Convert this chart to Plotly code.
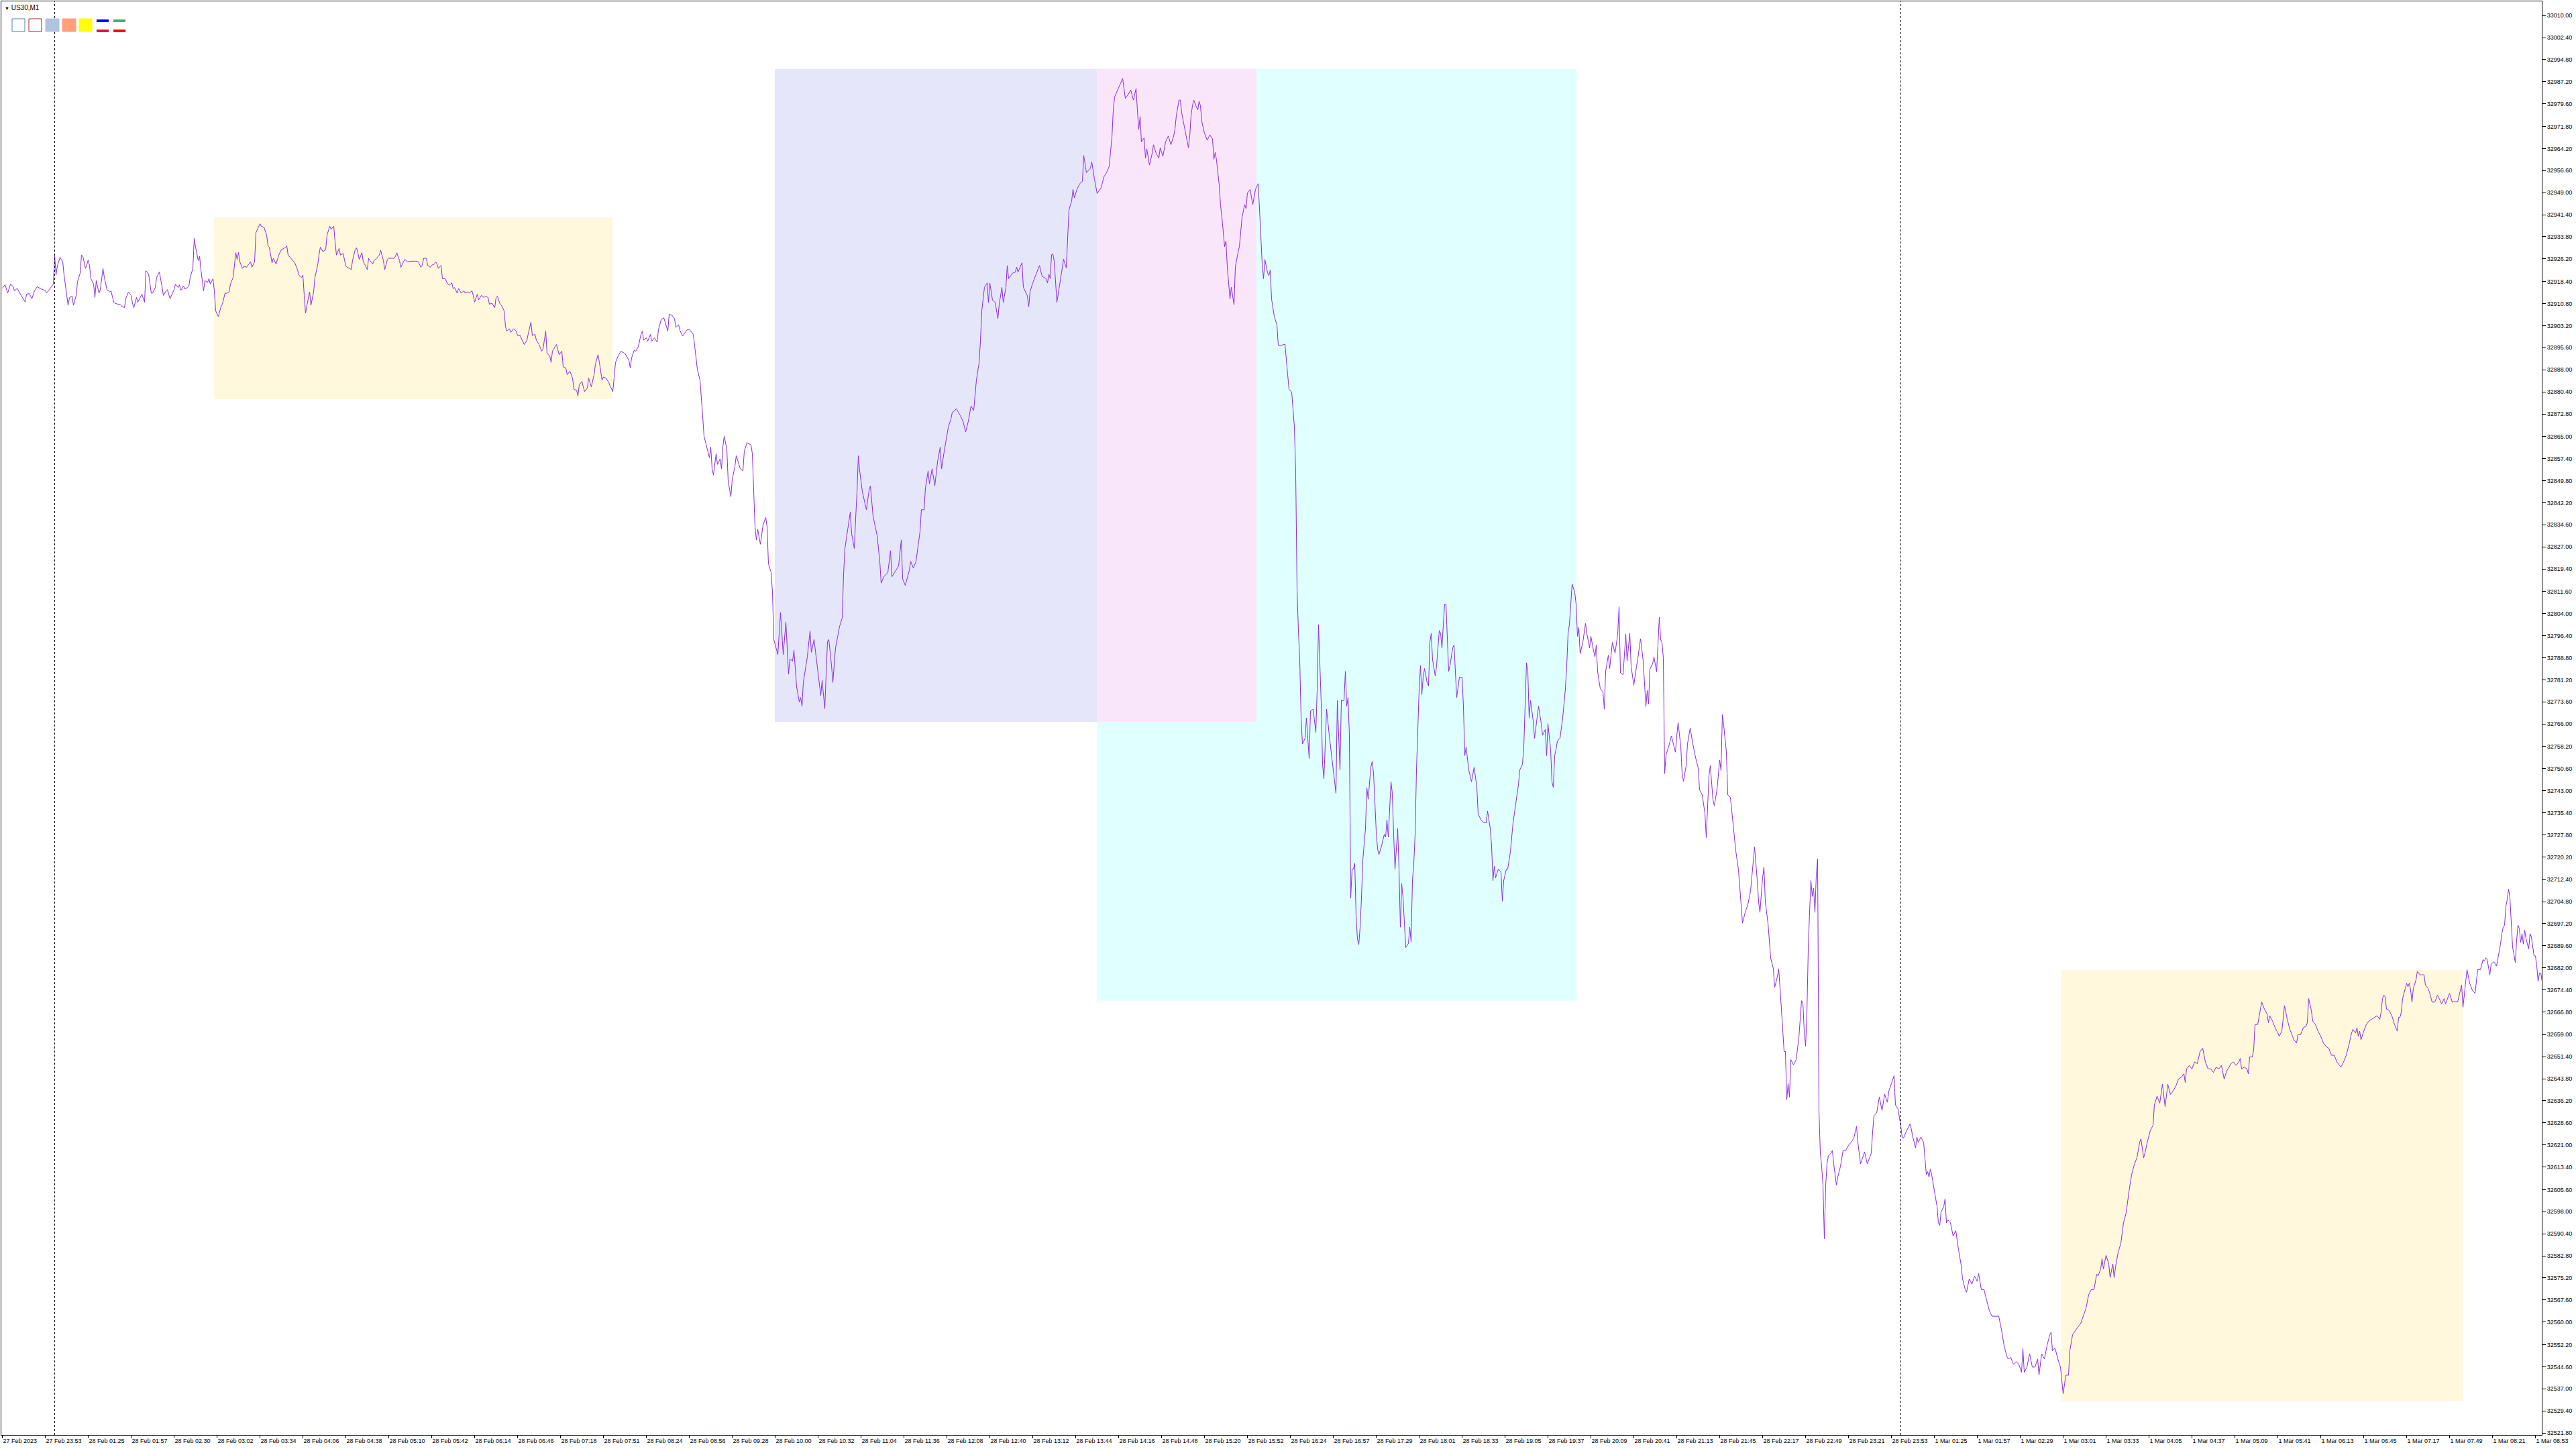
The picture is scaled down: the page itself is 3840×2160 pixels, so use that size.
import plotly.graph_objects as go

# US30 M1 line chart, 27 Feb 23:21 -> 1 Mar ~08:58
# (bar number counted from the first visible bar, close price)
seg_27feb_night = [
    (0, 32916.1), (2, 32917.3), (4, 32914.4), (6, 32917.5), (8, 32916.7), (9, 32915.2), (11, 32916.0), (13, 32914.4),
    (16, 32912.1), (17, 32911.3), (18, 32914.0), (20, 32914.3), (22, 32912.5), (24, 32915.2), (26, 32916.6), (29, 32915.8),
    (32, 32915.3), (33, 32914.4), (35, 32915.6), (37, 32916.9), (38, 32917.5), (39, 32927.5), (40, 32920.6), (41, 32923.7),
    (43, 32926.7), (45, 32925.2), (46, 32920.6), (48, 32913.6), (49, 32910.2), (50, 32912.9), (52, 32913.3), (53, 32910.2),
    (55, 32913.6), (56, 32918.3), (58, 32921.3), (59, 32927.5), (60, 32927.1), (62, 32922.9), (64, 32925.8), (65, 32923.7),
    (66, 32919.4), (68, 32917.5), (69, 32912.9), (70, 32918.7), (72, 32914.4), (73, 32915.6), (75, 32922.9), (76, 32919.8),
    (78, 32915.6), (80, 32914.8), (81, 32915.2), (83, 32911.3), (84, 32910.9), (86, 32910.6), (88, 32910.4), (89, 32909.9),
    (91, 32909.4), (92, 32912.5), (94, 32914.8), (96, 32913.6), (97, 32910.9), (98, 32909.4), (100, 32912.9), (101, 32911.3),
    (103, 32913.3), (104, 32914.0), (106, 32911.3), (107, 32922.1), (109, 32921.0), (111, 32914.4), (112, 32914.4), (114, 32916.3),
    (115, 32919.8), (117, 32921.7), (119, 32916.7), (120, 32913.6), (122, 32915.2), (123, 32915.6), (125, 32912.5), (126, 32913.6),
    (128, 32915.6), (129, 32917.5), (131, 32916.3), (132, 32917.3), (133, 32915.3), (135, 32916.9), (136, 32915.8), (138, 32916.3),
    (139, 32916.7), (140, 32919.8), (142, 32922.9), (143, 32933.3), (144, 32930.2), (146, 32925.6), (147, 32927.1), (148, 32922.5),
    (149, 32918.3), (150, 32915.2), (151, 32918.7), (153, 32918.1), (154, 32919.4), (155, 32917.5), (157, 32919.4), (158, 32915.2),
    (159, 32908.3), (161, 32906.3), (163, 32909.8), (164, 32910.6), (166, 32914.4), (167, 32914.3), (169, 32914.8), (170, 32917.5),
    (172, 32919.8), (173, 32924.4), (174, 32928.3), (175, 32926.0), (176, 32928.4), (177, 32925.2), (179, 32922.9), (180, 32923.7),
    (182, 32923.3), (183, 32924.0), (185, 32925.2), (186, 32923.3), (188, 32925.2), (189, 32935.2), (191, 32937.5), (192, 32938.3),
    (193, 32937.4), (195, 32937.1), (197, 32934.4), (198, 32930.6), (199, 32930.2), (201, 32924.8), (202, 32926.4), (204, 32924.4),
    (206, 32927.5), (207, 32928.3), (208, 32929.4), (210, 32929.8), (212, 32930.6), (213, 32927.5), (215, 32926.4), (217, 32925.2),
    (218, 32924.8), (220, 32922.5), (221, 32920.6), (223, 32919.8), (224, 32920.6), (225, 32913.6), (226, 32907.5), (227, 32910.2),
    (229, 32914.8), (230, 32910.2), (232, 32914.8), (233, 32919.8), (235, 32924.0), (236, 32927.5), (237, 32930.2), (239, 32928.7),
    (241, 32929.4), (242, 32934.4), (244, 32937.4), (245, 32936.4), (247, 32937.4), (248, 32932.1), (249, 32927.5), (251, 32929.8),
    (252, 32927.5), (254, 32928.1), (256, 32923.7), (257, 32923.3), (259, 32922.9), (260, 32922.5), (261, 32925.6), (263, 32929.4),
    (264, 32930.0), (265, 32928.3), (266, 32926.0), (268, 32928.3), (269, 32925.2), (270, 32924.4), (272, 32922.5), (273, 32926.4),
    (274, 32925.6), (276, 32924.4), (277, 32925.6), (279, 32926.4), (281, 32927.5), (282, 32929.2), (283, 32927.5), (284, 32925.6),
    (285, 32922.5), (287, 32926.0), (288, 32926.4), (292, 32926.4), (293, 32927.1), (294, 32928.3), (296, 32925.6), (297, 32923.3),
    (299, 32925.2), (300, 32926.0), (302, 32925.2), (305, 32925.4), (308, 32925.4), (310, 32925.2), (312, 32923.3), (313, 32924.0),
    (314, 32926.4), (316, 32926.4), (317, 32924.0), (319, 32923.3), (320, 32924.0), (322, 32924.4), (323, 32925.2), (324, 32924.4),
    (325, 32922.9), (327, 32924.0), (328, 32919.4), (330, 32919.4), (332, 32917.5), (333, 32917.1), (335, 32917.9), (336, 32916.0),
    (337, 32916.3), (339, 32914.4), (340, 32916.0), (342, 32914.4), (344, 32915.2), (345, 32914.4), (347, 32914.8), (348, 32914.4),
    (350, 32915.2), (351, 32913.6), (352, 32911.3), (354, 32914.0), (355, 32912.1), (357, 32913.6), (359, 32912.9), (360, 32913.3),
    (362, 32912.9), (363, 32910.6), (365, 32910.9), (367, 32909.4), (368, 32912.9), (369, 32913.3), (371, 32910.6), (372, 32910.2),
    (374, 32908.3), (375, 32902.9), (376, 32901.3), (378, 32902.1), (379, 32900.9), (381, 32902.1), (383, 32901.3), (384, 32899.8),
    (386, 32899.8), (387, 32898.6), (389, 32896.7), (391, 32898.2), (392, 32900.5), (394, 32904.4), (395, 32899.8), (397, 32900.2),
    (398, 32898.2), (400, 32896.7), (402, 32894.4), (403, 32895.2), (405, 32901.3), (406, 32893.6), (408, 32892.8), (409, 32890.5),
    (410, 32894.4), (412, 32895.9), (413, 32896.7), (415, 32893.2), (417, 32894.4), (418, 32889.0), (420, 32888.6), (421, 32886.3),
    (423, 32887.5), (425, 32885.1), (426, 32881.3), (428, 32880.9), (429, 32879.0), (430, 32882.8), (432, 32884.0), (433, 32882.1),
    (434, 32880.5), (436, 32881.7), (437, 32885.1), (439, 32882.1), (441, 32886.3), (442, 32889.8), (444, 32893.2), (445, 32890.5),
    (447, 32884.4), (448, 32885.5), (450, 32885.1), (452, 32883.6), (453, 32882.4), (455, 32880.5), (456, 32885.1), (457, 32890.5),
    (459, 32892.8), (461, 32894.4), (464, 32893.6), (465, 32892.8), (467, 32891.3), (468, 32888.6), (469, 32892.1), (471, 32894.8),
    (472, 32894.4), (474, 32895.9), (476, 32900.2), (477, 32901.3), (478, 32898.2), (480, 32899.0), (481, 32897.8), (483, 32900.2),
    (484, 32897.8), (486, 32899.0), (488, 32897.5), (489, 32901.7), (491, 32905.2), (493, 32905.9), (494, 32904.4), (496, 32901.3),
    (497, 32907.1),
]

seg_28feb_midday = [
    (499, 32906.8), (501, 32905.6), (502, 32902.6), (504, 32903.5), (505, 32901.6), (507, 32899.6), (510, 32901.6), (512, 32902.0),
    (515, 32900.1), (516, 32896.3), (518, 32888.2), (520, 32884.4), (521, 32877.0), (522, 32871.8), (523, 32865.1), (525, 32861.4),
    (527, 32857.7), (528, 32861.4), (529, 32853.9), (530, 32851.7), (532, 32859.1), (533, 32855.4), (535, 32857.3), (536, 32853.9),
    (537, 32861.4), (538, 32865.1), (540, 32860.6), (541, 32849.5), (543, 32844.3), (544, 32850.2), (546, 32854.7), (547, 32858.4),
    (550, 32853.9), (552, 32853.2), (553, 32859.9), (555, 32862.9), (558, 32862.1), (559, 32859.1), (560, 32847.2), (561, 32833.8),
    (562, 32829.4), (563, 32833.1), (565, 32827.9), (567, 32834.6), (569, 32837.1), (570, 32833.8), (571, 32821.2), (573, 32818.2),
    (574, 32811.5), (575, 32795.1), (578, 32789.9), (580, 32804.4), (582, 32789.9), (584, 32801.1), (586, 32783.2), (587, 32788.4),
    (589, 32787.7), (590, 32791.4), (592, 32778.8), (594, 32773.6), (595, 32775.1), (596, 32772.1), (597, 32780.3), (600, 32789.2),
    (602, 32798.1), (603, 32790.7), (605, 32795.1), (608, 32783.2), (610, 32775.8), (611, 32781.0), (613, 32771.3), (615, 32794.4),
    (616, 32795.1), (618, 32786.2), (619, 32780.3), (621, 32792.2), (624, 32799.6), (626, 32802.6), (627, 32817.5), (628, 32826.4),
    (631, 32836.8), (632, 32839.0), (633, 32831.6), (635, 32826.4), (636, 32836.8), (637, 32845.8), (638, 32858.4), (639, 32853.2),
    (641, 32846.0), (644, 32839.8), (646, 32846.5), (647, 32848.0), (649, 32837.5), (652, 32830.9), (654, 32822.0), (655, 32814.5),
    (657, 32816.7), (660, 32818.2), (662, 32825.7), (663, 32816.7), (665, 32818.2), (668, 32820.4), (670, 32829.4), (671, 32816.0),
    (673, 32813.7), (676, 32818.9), (677, 32822.0), (679, 32819.7), (681, 32822.0), (684, 32832.4), (685, 32839.8), (687, 32839.8),
    (688, 32847.2), (690, 32853.2), (691, 32848.7), (693, 32853.9), (695, 32848.0), (697, 32856.2), (699, 32861.4), (700, 32853.9),
    (702, 32859.9), (705, 32868.1), (707, 32871.0), (708, 32873.3), (710, 32874.0), (711, 32874.6), (714, 32872.2), (716, 32870.3),
    (718, 32866.6), (720, 32870.3), (722, 32875.5), (724, 32874.0), (726, 32884.4), (728, 32890.4), (729, 32897.8), (730, 32908.2),
    (732, 32916.4), (734, 32917.9), (735, 32911.2), (736, 32917.9), (738, 32912.0), (740, 32911.2), (742, 32905.6), (743, 32910.5),
    (745, 32916.4), (746, 32911.2), (748, 32916.4), (749, 32923.9), (750, 32919.4), (753, 32921.3), (755, 32921.6), (756, 32923.4),
    (757, 32921.6), (760, 32924.9), (761, 32916.4), (764, 32913.5), (765, 32909.7), (766, 32914.9), (768, 32917.9), (771, 32921.6),
    (773, 32923.9), (775, 32920.2), (778, 32919.4), (779, 32917.9), (780, 32920.9), (781, 32919.4), (782, 32927.6), (783, 32927.9),
    (784, 32925.4), (786, 32911.2), (789, 32920.2), (791, 32926.1), (793, 32923.1), (795, 32943.0), (797, 32946.2), (798, 32950.2),
    (799, 32947.2), (801, 32950.2), (803, 32952.1), (805, 32952.9), (806, 32961.8), (808, 32955.9), (811, 32957.4), (812, 32959.6),
    (814, 32953.6), (816, 32948.7), (819, 32950.7), (821, 32954.4), (823, 32955.9), (825, 32958.1), (826, 32963.3), (827, 32967.8),
    (828, 32977.4), (829, 32981.9), (831, 32984.1), (834, 32987.1), (835, 32988.3), (836, 32984.9), (837, 32981.5), (839, 32982.7),
    (841, 32984.4), (843, 32980.9), (845, 32984.9), (846, 32977.4), (847, 32970.8), (848, 32975.2),
]

seg_28feb_afternoon = [
    (849, 32966.5), (851, 32967.9), (852, 32960.9), (853, 32964.1), (855, 32958.5), (857, 32962.5), (858, 32965.5), (860, 32962.5),
    (862, 32960.9), (863, 32964.5), (865, 32961.5), (867, 32966.5), (869, 32968.5), (871, 32965.5), (873, 32968.5), (874, 32970.9),
    (875, 32975.5), (877, 32980.9), (878, 32980.9), (879, 32976.5), (881, 32971.5), (883, 32966.5), (884, 32964.5), (885, 32968.5),
    (886, 32975.5), (887, 32978.9), (888, 32980.9), (890, 32978.5), (891, 32977.5), (892, 32980.5), (893, 32978.9), (894, 32973.5),
    (896, 32969.5), (898, 32967.1), (900, 32968.9), (902, 32967.5), (903, 32960.5), (904, 32962.9), (905, 32960.1), (907, 32951.5),
    (908, 32944.5), (909, 32940.5), (911, 32930.4), (912, 32932.4), (913, 32923.4), (915, 32912.4), (916, 32916.4), (918, 32910.4),
    (919, 32923.4), (921, 32928.4), (922, 32930.4), (924, 32940.5), (926, 32944.9), (927, 32943.5), (928, 32948.9), (930, 32950.1),
    (932, 32944.9), (934, 32950.1), (936, 32952.1), (937, 32943.5), (938, 32934.4), (939, 32924.4), (940, 32919.4), (941, 32926.0),
    (943, 32921.4), (944, 32920.4), (945, 32922.4), (946, 32912.4), (948, 32906.4), (950, 32903.4), (951, 32896.4), (953, 32896.4),
    (956, 32896.8), (957, 32890.4), (958, 32886.3), (959, 32881.3), (961, 32880.3), (962, 32874.3), (963, 32868.3), (964, 32852.3),
    (965, 32812.2), (966, 32798.2), (967, 32788.1), (968, 32768.1), (969, 32759.1), (971, 32761.1), (972, 32768.1), (974, 32754.1),
    (975, 32770.5), (977, 32771.1), (979, 32763.1), (980, 32778.1), (981, 32800.2), (983, 32773.1), (984, 32752.1), (985, 32747.1),
    (986, 32758.1), (987, 32771.1), (989, 32762.1), (990, 32758.1), (992, 32749.1), (994, 32742.1), (995, 32774.1), (997, 32750.1),
    (998, 32774.1), (1000, 32774.1), (1001, 32784.1), (1002, 32772.1), (1003, 32775.1), (1004, 32762.1), (1005, 32706.0), (1006, 32716.0),
    (1007, 32716.0), (1008, 32718.0), (1009, 32700.0), (1010, 32692.0), (1011, 32690.0), (1012, 32696.0), (1013, 32706.0), (1014, 32719.0),
    (1016, 32730.0), (1017, 32744.1), (1018, 32740.1), (1020, 32751.1), (1021, 32753.1), (1022, 32749.1), (1024, 32729.0), (1025, 32723.0),
    (1026, 32721.0), (1028, 32724.0), (1030, 32728.0), (1031, 32727.0), (1032, 32733.0), (1033, 32727.0), (1035, 32746.1), (1036, 32742.1),
    (1037, 32728.0), (1038, 32716.0), (1040, 32730.0), (1041, 32716.0), (1042, 32696.0), (1043, 32711.0), (1044, 32706.0), (1045, 32698.0),
    (1046, 32689.0), (1048, 32690.4), (1049, 32696.0), (1050, 32691.0), (1051, 32712.0), (1052, 32718.0), (1053, 32728.0), (1054, 32750.1),
    (1055, 32766.1), (1056, 32778.1), (1057, 32786.1), (1058, 32776.1), (1059, 32782.1), (1060, 32785.1), (1062, 32780.1), (1063, 32779.1),
    (1064, 32794.2), (1065, 32797.2), (1066, 32788.1), (1068, 32782.5), (1069, 32786.1), (1071, 32798.2), (1072, 32797.2), (1073, 32792.2),
    (1074, 32800.2), (1075, 32807.2), (1076, 32807.2), (1077, 32796.2), (1078, 32784.1), (1079, 32786.1), (1081, 32792.2), (1082, 32793.2),
    (1083, 32784.1), (1084, 32775.1), (1086, 32782.1), (1088, 32782.1), (1089, 32772.1), (1090, 32755.1), (1091, 32758.1), (1093, 32750.1),
    (1095, 32746.1), (1097, 32751.1), (1099, 32744.1), (1100, 32735.0), (1102, 32733.0), (1104, 32732.0), (1106, 32732.0), (1107, 32736.0),
    (1109, 32730.0), (1110, 32724.0), (1111, 32712.0), (1112, 32717.0), (1113, 32713.0), (1115, 32716.0), (1117, 32715.0), (1118, 32705.0),
    (1119, 32712.0), (1121, 32716.0), (1122, 32716.0), (1124, 32722.0), (1126, 32732.0), (1128, 32739.1), (1130, 32745.1), (1131, 32750.1),
    (1133, 32752.1), (1134, 32758.1), (1135, 32774.1), (1136, 32787.1), (1137, 32784.1), (1138, 32768.1), (1139, 32774.1), (1141, 32767.1),
    (1142, 32761.1), (1144, 32769.1), (1145, 32772.1), (1147, 32766.1), (1148, 32762.1), (1150, 32764.1), (1151, 32755.1), (1152, 32766.1),
    (1154, 32757.1), (1155, 32746.1), (1156, 32744.1), (1157, 32755.1), (1158, 32757.1), (1159, 32760.1), (1161, 32761.1), (1163, 32768.1),
    (1164, 32773.1), (1165, 32778.1), (1166, 32786.1), (1167, 32797.2), (1168, 32800.2), (1169, 32808.2), (1170, 32814.2), (1172, 32811.2),
    (1173, 32807.2), (1174, 32796.2), (1175, 32799.2), (1176, 32790.2), (1178, 32794.2), (1180, 32800.6), (1181, 32797.2), (1183, 32792.2),
    (1184, 32796.2), (1186, 32791.2), (1187, 32789.1), (1188, 32793.2), (1189, 32784.1), (1190, 32781.1), (1191, 32778.1), (1193, 32777.1),
    (1194, 32771.1), (1195, 32784.1), (1197, 32789.7), (1198, 32785.1),
]

seg_28feb_evening = [
    (1199, 32790.4), (1200, 32794.1), (1202, 32790.4), (1204, 32796.9), (1205, 32806.4), (1206, 32783.6), (1208, 32783.0), (1209, 32791.3),
    (1210, 32796.9), (1211, 32787.7), (1213, 32797.2), (1214, 32785.8), (1216, 32779.4), (1218, 32785.8), (1219, 32788.6), (1221, 32795.4),
    (1223, 32787.7), (1225, 32772.0), (1226, 32777.5), (1227, 32772.9), (1228, 32784.9), (1230, 32786.7), (1231, 32789.1), (1233, 32784.0),
    (1234, 32794.1), (1235, 32802.8), (1236, 32795.0), (1237, 32794.1), (1238, 32788.6), (1239, 32748.9), (1240, 32755.4), (1242, 32758.2),
    (1244, 32761.9), (1246, 32758.2), (1247, 32756.3), (1248, 32761.9), (1249, 32766.5), (1251, 32758.2), (1252, 32749.0), (1253, 32746.2),
    (1255, 32751.7), (1256, 32759.1), (1258, 32764.6), (1260, 32759.1), (1262, 32754.5), (1264, 32750.8), (1265, 32743.4), (1267, 32741.6),
    (1269, 32735.2), (1270, 32726.9), (1271, 32737.9), (1272, 32748.1), (1273, 32751.7), (1275, 32739.8), (1276, 32737.9), (1278, 32743.4),
    (1280, 32753.6), (1281, 32749.9), (1282, 32769.2), (1283, 32765.5), (1285, 32756.3), (1286, 32741.6), (1288, 32740.7), (1290, 32730.6),
    (1292, 32722.3), (1294, 32715.8), (1296, 32704.8), (1297, 32697.4), (1299, 32701.1), (1301, 32703.8), (1303, 32708.4), (1305, 32717.7),
    (1306, 32723.6), (1308, 32712.1), (1309, 32704.8), (1310, 32701.1), (1312, 32713.1), (1313, 32716.7), (1314, 32704.8), (1316, 32697.4),
    (1318, 32685.4), (1320, 32681.7), (1321, 32675.3), (1323, 32679.0), (1324, 32681.7), (1326, 32667.9), (1328, 32653.2), (1329, 32653.2),
    (1330, 32636.6), (1331, 32642.1), (1332, 32637.5), (1333, 32650.4), (1335, 32648.6), (1337, 32650.4), (1339, 32657.8), (1341, 32670.7),
    (1342, 32669.8), (1343, 32660.6), (1344, 32655.0), (1345, 32666.1), (1346, 32688.2), (1347, 32701.1), (1348, 32712.1), (1349, 32706.6),
    (1350, 32709.4), (1351, 32701.1), (1352, 32714.0), (1353, 32719.5), (1354, 32632.9), (1355, 32618.2), (1356, 32613.6), (1357, 32607.1),
    (1358, 32588.7), (1359, 32607.1), (1360, 32614.5), (1361, 32617.3), (1363, 32618.2), (1364, 32619.1), (1365, 32614.5), (1367, 32607.1),
    (1368, 32609.9), (1370, 32613.6), (1371, 32616.4), (1372, 32619.1), (1374, 32619.1), (1376, 32620.9), (1378, 32621.9), (1380, 32623.4),
    (1382, 32627.4), (1383, 32621.9), (1385, 32614.5), (1387, 32617.3), (1388, 32618.6), (1390, 32614.5), (1392, 32617.3), (1393, 32618.2),
    (1394, 32625.6), (1395, 32631.1), (1397, 32632.0), (1399, 32637.5), (1401, 32632.9), (1403, 32638.5), (1405, 32635.7), (1406, 32639.4),
    (1408, 32642.1), (1410, 32644.9), (1411, 32634.8), (1413, 32633.3), (1415, 32627.4), (1416, 32623.7), (1417, 32623.4), (1419, 32625.6),
    (1422, 32628.3), (1424, 32623.7), (1426, 32620.0), (1427, 32623.7), (1428, 32621.9), (1430, 32623.7), (1432, 32621.9), (1434, 32610.8),
    (1435, 32611.8), (1436, 32609.9), (1437, 32612.7), (1438, 32610.8), (1440, 32605.3), (1442, 32599.8), (1443, 32594.2), (1444, 32593.3),
    (1445, 32597.9), (1447, 32599.8), (1448, 32602.5), (1449, 32594.2), (1450, 32595.2), (1452, 32594.2), (1454, 32589.6), (1456, 32591.5),
    (1458, 32585.0), (1460, 32579.5), (1461, 32574.9), (1463, 32571.2), (1464, 32570.3), (1466, 32574.9), (1468, 32573.1), (1470, 32575.8),
    (1472, 32574.0), (1473, 32576.7), (1475, 32571.2), (1477, 32571.2), (1479, 32567.5), (1481, 32563.9), (1483, 32562.0), (1484, 32562.0),
    (1486, 32562.0), (1488, 32562.0), (1490, 32557.4), (1492, 32551.9), (1494, 32548.2), (1495, 32547.3), (1497, 32547.8), (1499, 32545.4),
    (1501, 32546.4), (1503, 32545.4), (1505, 32542.7), (1506, 32550.9), (1507, 32542.7), (1509, 32544.5), (1511, 32549.1), (1513, 32544.5),
    (1515, 32544.5), (1517, 32547.3), (1518, 32541.7), (1520, 32549.1), (1522, 32547.3), (1524, 32551.9), (1526, 32555.6), (1527, 32556.5),
    (1528, 32550.1), (1530, 32551.0), (1532, 32547.3), (1534, 32544.5), (1536, 32535.3), (1538, 32541.7), (1540, 32541.7), (1541, 32550.1),
    (1543, 32555.6), (1545, 32557.0), (1547, 32558.3),
]

seg_1mar_morning = [
    (1549, 32559.4), (1551, 32562.3), (1553, 32564.7), (1555, 32569.4), (1557, 32571.2), (1559, 32571.2), (1561, 32576.5), (1562, 32575.9),
    (1564, 32578.3), (1565, 32581.8), (1566, 32578.3), (1568, 32583.0), (1570, 32580.0), (1571, 32575.3), (1573, 32580.0), (1574, 32575.3),
    (1575, 32578.8), (1577, 32584.1), (1579, 32587.1), (1581, 32594.2), (1583, 32597.7), (1585, 32604.8), (1587, 32610.7), (1589, 32614.2),
    (1591, 32616.6), (1593, 32621.9), (1594, 32623.1), (1596, 32616.6), (1597, 32618.3), (1599, 32622.5), (1601, 32626.0), (1603, 32627.8),
    (1604, 32634.8), (1606, 32637.8), (1608, 32635.4), (1610, 32641.9), (1612, 32634.2), (1614, 32641.9), (1616, 32638.4), (1618, 32639.6),
    (1620, 32641.3), (1622, 32643.7), (1624, 32644.3), (1626, 32645.5), (1627, 32642.5), (1628, 32647.2), (1630, 32648.4), (1632, 32647.2),
    (1634, 32649.6), (1636, 32649.0), (1638, 32653.1), (1640, 32654.3), (1642, 32649.6), (1644, 32647.2), (1646, 32647.2), (1648, 32646.0),
    (1650, 32647.8), (1652, 32647.2), (1654, 32648.4), (1656, 32643.7), (1658, 32646.6), (1659, 32647.2), (1661, 32649.0), (1663, 32649.6),
    (1665, 32648.4), (1667, 32649.6), (1668, 32650.8), (1669, 32647.2), (1671, 32647.8), (1673, 32647.2), (1674, 32645.5), (1675, 32651.3),
    (1677, 32651.3), (1678, 32653.7), (1679, 32662.5), (1681, 32662.5), (1682, 32664.9), (1684, 32670.2), (1686, 32667.8), (1688, 32666.1),
    (1689, 32663.1), (1690, 32665.5), (1692, 32663.7), (1694, 32661.4), (1696, 32659.6), (1697, 32658.4), (1699, 32660.2), (1700, 32665.5),
    (1701, 32669.0), (1703, 32664.3), (1705, 32660.8), (1707, 32658.4), (1708, 32657.2), (1710, 32656.1), (1711, 32659.0), (1713, 32659.0),
    (1715, 32661.4), (1717, 32661.9), (1718, 32663.1), (1719, 32671.4), (1721, 32667.3), (1722, 32663.7), (1724, 32662.5), (1726, 32660.2),
    (1728, 32658.4), (1730, 32656.1), (1732, 32654.9), (1734, 32654.3), (1736, 32651.9), (1738, 32651.9), (1740, 32649.6), (1742, 32648.4),
    (1743, 32647.8), (1745, 32649.6), (1747, 32651.9), (1749, 32655.5), (1751, 32659.6), (1752, 32660.8), (1754, 32659.6), (1755, 32661.4),
    (1756, 32658.4), (1757, 32660.2), (1758, 32657.2), (1760, 32660.2), (1762, 32662.5), (1764, 32663.7), (1766, 32664.3), (1768, 32664.9),
    (1770, 32665.5), (1772, 32664.3), (1773, 32666.7), (1774, 32671.4), (1775, 32672.6), (1776, 32672.0), (1777, 32667.8), (1779, 32667.3),
    (1781, 32665.5), (1783, 32662.5), (1785, 32660.2), (1786, 32664.9), (1787, 32664.9), (1788, 32666.7), (1789, 32671.4), (1791, 32674.9),
    (1792, 32676.7), (1793, 32675.5), (1794, 32676.7), (1795, 32674.3), (1796, 32670.2), (1797, 32674.9), (1799, 32677.9), (1800, 32680.8),
    (1802, 32679.6), (1803, 32679.6), (1805, 32679.6), (1806, 32676.1), (1808, 32674.9), (1809, 32673.7), (1811, 32670.2), (1813, 32670.2),
    (1815, 32672.6), (1817, 32670.8), (1818, 32669.6), (1820, 32671.4), (1821, 32669.6), (1823, 32672.0), (1824, 32673.2), (1826, 32670.2),
    (1828, 32670.4), (1830, 32670.2), (1832, 32674.3), (1833, 32676.1), (1834, 32668.4), (1836, 32677.3), (1837, 32681.4), (1839, 32676.7),
    (1841, 32674.3), (1843, 32673.2), (1845, 32681.4), (1847, 32681.4), (1849, 32684.9), (1850, 32684.3), (1851, 32685.5), (1852, 32684.9),
    (1854, 32679.6), (1855, 32683.2), (1857, 32684.1), (1859, 32682.6), (1860, 32684.9), (1861, 32687.3), (1862, 32690.2), (1863, 32693.8),
    (1864, 32696.1), (1865, 32696.7), (1866, 32703.2), (1867, 32705.6), (1868, 32709.1), (1869, 32706.1), (1870, 32696.7), (1871, 32689.1),
    (1872, 32686.7), (1873, 32683.8), (1874, 32691.4), (1875, 32696.7), (1876, 32695.5), (1877, 32690.8), (1878, 32693.8), (1879, 32690.2),
    (1880, 32695.0), (1881, 32692.0), (1883, 32688.5), (1884, 32693.8), (1885, 32692.6), (1886, 32689.1), (1887, 32686.1), (1888, 32686.1),
    (1889, 32682.6), (1890, 32677.3), (1891, 32680.2), (1892, 32680.2), (1893, 32677.3),
]

# time axis: one label every 32 bars
time_labels = [
    "27 Feb 2023", "27 Feb 23:53", "28 Feb 01:25", "28 Feb 01:57", "28 Feb 02:30", "28 Feb 03:02", "28 Feb 03:34",
    "28 Feb 04:06", "28 Feb 04:38", "28 Feb 05:10", "28 Feb 05:42", "28 Feb 06:14", "28 Feb 06:46", "28 Feb 07:18",
    "28 Feb 07:51", "28 Feb 08:24", "28 Feb 08:56", "28 Feb 09:28", "28 Feb 10:00", "28 Feb 10:32", "28 Feb 11:04",
    "28 Feb 11:36", "28 Feb 12:08", "28 Feb 12:40", "28 Feb 13:12", "28 Feb 13:44", "28 Feb 14:16", "28 Feb 14:48",
    "28 Feb 15:20", "28 Feb 15:52", "28 Feb 16:24", "28 Feb 16:57", "28 Feb 17:29", "28 Feb 18:01", "28 Feb 18:33",
    "28 Feb 19:05", "28 Feb 19:37", "28 Feb 20:09", "28 Feb 20:41", "28 Feb 21:13", "28 Feb 21:45", "28 Feb 22:17",
    "28 Feb 22:49", "28 Feb 23:21", "28 Feb 23:53", "1 Mar 01:25", "1 Mar 01:57", "1 Mar 02:29", "1 Mar 03:01",
    "1 Mar 03:33", "1 Mar 04:05", "1 Mar 04:37", "1 Mar 05:09", "1 Mar 05:41", "1 Mar 06:13", "1 Mar 06:45",
    "1 Mar 07:17", "1 Mar 07:49", "1 Mar 08:21", "1 Mar 08:53",
]
bars_per_label = 32

price_labels = [
    33010.0, 33002.4, 32994.8, 32987.2, 32979.6, 32971.8, 32964.2, 32956.6, 32949.0, 32941.4, 32933.8, 32926.2,
    32918.4, 32910.8, 32903.2, 32895.6, 32888.0, 32880.4, 32872.8, 32865.0, 32857.4, 32849.8, 32842.2, 32834.6,
    32827.0, 32819.4, 32811.6, 32804.0, 32796.4, 32788.8, 32781.2, 32773.6, 32766.0, 32758.2, 32750.6, 32743.0,
    32735.4, 32727.8, 32720.2, 32712.4, 32704.8, 32697.2, 32689.6, 32682.0, 32674.4, 32666.8, 32659.0, 32651.4,
    32643.8, 32636.2, 32628.6, 32621.0, 32613.4, 32605.6, 32598.0, 32590.4, 32582.8, 32575.2, 32567.6, 32560.0,
    32552.2, 32544.6, 32537.0, 32529.4, 32521.8,
]

# day separators (first bar of 28 Feb and of 1 Mar)
day_start_bars = [39, 1415]

# rectangles: bar span, price span
zone_bars = [(157.7, 454.9), (575.75, 934.75), (815.75, 1173.25), (815.75, 934.75), (1534.6, 1833.7)]
zone_prices = [(32877.9, 32940.5), (32766.7, 32991.6), (32670.7, 32991.6), (32766.7, 32991.6), (32532.8, 32681.3)]
zone_colors = ["#FFF8DC", "#E6E6FA", "#E0FFFF", "#F9E6FA", "#FFF8DC"]

points = seg_27feb_night + seg_28feb_midday + seg_28feb_afternoon + seg_28feb_evening + seg_1mar_morning
bars = [p[0] for p in points]
closes = [p[1] for p in points]

W, H = 3840, 2160
PL, PR, PT, PB = 2, 3789, 2, 2139
FONT = "Liberation Sans, Arial, sans-serif"


def px_x(x):
    return (x - PL) / (PR - PL)


def px_y(y):
    return (PB - y) / (PB - PT)


fig = go.Figure()
fig.add_trace(go.Scatter(x=bars, y=closes, mode="lines", line=dict(color="#8A2BE2", width=1),
                         hoverinfo="skip", showlegend=False))

shapes = []
for (b0, b1), (p0, p1), c in zip(zone_bars, zone_prices, zone_colors):
    shapes.append(dict(type="rect", xref="x", yref="y", x0=b0, x1=b1, y0=p0, y1=p1,
                       fillcolor=c, line=dict(width=0), layer="below"))
for b in day_start_bars:
    shapes.append(dict(type="line", xref="x", yref="paper", x0=b, x1=b, y0=0, y1=1,
                       line=dict(color="black", width=1, dash="3px,3px"), layer="above"))

# small toolbar icons in the top-left corner
icon_boxes = [(18, 37, "#4682B4", "white"), (43, 62, "#B22222", "white"), (68, 88, "#B0C4DE", "#B0C4DE"),
              (93, 113, "#FFA07A", "#FFA07A"), (118, 137, "#FFFF00", "#FFFF00")]
for x0, x1, lc, fc in icon_boxes:
    shapes.append(dict(type="rect", xref="paper", yref="paper", x0=px_x(x0), x1=px_x(x1),
                       y0=px_y(47), y1=px_y(28), fillcolor=fc, line=dict(color=lc, width=1)))
icon_bars = [(144, 162, 29, "#0000FF"), (144, 162, 44, "#DC143C"), (169, 187, 29, "#3CB371"), (169, 187, 44, "#FF0000")]
for x0, x1, y0, c in icon_bars:
    shapes.append(dict(type="rect", xref="paper", yref="paper", x0=px_x(x0), x1=px_x(x1),
                       y0=px_y(y0 + 4), y1=px_y(y0), fillcolor=c, line=dict(width=0)))

fig.update_layout(
    width=W, height=H,
    margin=dict(l=PL, r=W - PR, t=PT, b=H - PB, autoexpand=False),
    paper_bgcolor="white", plot_bgcolor="white",
    shapes=shapes,
    showlegend=False,
    annotations=[dict(xref="paper", yref="paper", x=px_x(5), y=px_y(11), xanchor="left", yanchor="middle",
                      text="<span style='font-size:7px'>▼</span> US30,M1", showarrow=False,
                      font=dict(family=FONT, size=10, color="black"))],
    xaxis=dict(range=[-0.75, 1892.75], tickvals=[bars_per_label * k for k in range(len(time_labels))],
               ticktext=time_labels, ticks="outside", ticklen=4, tickcolor="black", ticklabelposition="outside right",
               showgrid=False, zeroline=False, showline=True, linecolor="black", linewidth=1, mirror=True,
               tickfont=dict(family=FONT, size=9, color="black"), automargin=False),
    yaxis=dict(range=[32521.13, 33014.9], side="right", tickvals=price_labels,
               ticktext=["%.2f" % v for v in price_labels], ticks="outside", ticklen=5, tickcolor="black",
               showgrid=False, zeroline=False, showline=True, linecolor="black", linewidth=1, mirror=True,
               tickfont=dict(family=FONT, size=9, color="black"), automargin=False),
)

# the page body has an 8px default margin; drop it so the chart fills the window exactly
fig.write_html("out.html", config={"displayModeBar": False},
               post_script="document.body.style.margin='0';document.body.style.overflow='hidden';")
